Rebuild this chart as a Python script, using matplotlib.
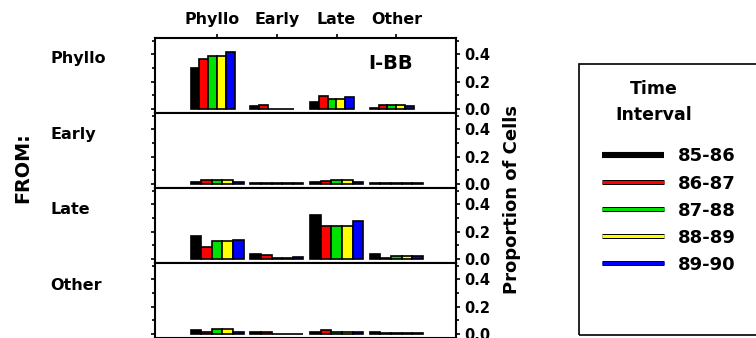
import numpy as np
import matplotlib
matplotlib.use("Agg")
import matplotlib.pyplot as plt
import matplotlib.patheffects as pe
import matplotlib.transforms as mtransforms
from matplotlib.lines import Line2D
from matplotlib.patches import Rectangle
from matplotlib.ticker import MultipleLocator

plt.rcParams['font.family'] = ['DejaVu Sans']
plt.rcParams['font.weight'] = 'bold'

# ---------------------------------------------------------------
# data
# ---------------------------------------------------------------
to_stages = ['Phyllo', 'Early', 'Late', 'Other']
from_stages = ['Phyllo', 'Early', 'Late', 'Other']
intervals = ['85-86', '86-87', '87-88', '88-89', '89-90']
colors = ['black', '#ff0000', '#00e000', '#ffff00', '#0000ff']

# proportion[from][to] -> one value per interval
from_phyllo = [[0.30, 0.365, 0.385, 0.385, 0.415],
               [0.02, 0.03, 0.003, 0.003, 0.003],
               [0.05, 0.098, 0.075, 0.075, 0.085],
               [0.01, 0.03, 0.03, 0.03, 0.02]]
from_early = [[0.012, 0.03, 0.03, 0.03, 0.012],
              [0.005, 0.01, 0.005, 0.005, 0.005],
              [0.012, 0.02, 0.03, 0.03, 0.012],
              [0.005, 0.006, 0.005, 0.005, 0.005]]
from_late = [[0.17, 0.09, 0.128, 0.128, 0.135],
             [0.035, 0.025, 0.01, 0.01, 0.015],
             [0.32, 0.24, 0.24, 0.24, 0.28],
             [0.035, 0.01, 0.022, 0.022, 0.022]]
from_other = [[0.03, 0.012, 0.035, 0.035, 0.012],
              [0.012, 0.012, 0.0, 0.0, 0.0],
              [0.012, 0.03, 0.012, 0.012, 0.012],
              [0.015, 0.01, 0.01, 0.01, 0.01]]
panels = [from_phyllo, from_early, from_late, from_other]

# ---------------------------------------------------------------
W, H = 756, 338
fig = plt.figure(figsize=(W / 100, H / 100), dpi=100)

ax_left = 155
ax_right = 456
panel_tops = [38, 113, 188, 263]
panel_h = 75
label_y = [59, 135, 210, 285]
bar_widths = [0.148, 0.178, 0.178, 0.178]

x = np.arange(len(to_stages))
axes = []
for p, vals in enumerate(panels):
    top = panel_tops[p]
    ax = fig.add_axes([ax_left / W, 1 - (top + panel_h) / H,
                       (ax_right - ax_left) / W, panel_h / H])
    vals = np.array(vals)
    bw = bar_widths[p]
    for k in range(len(intervals)):
        # groups start at the same left edge
        xpos = x - 2.5 * 0.178 + (k + 0.5) * bw
        ax.bar(xpos, vals[:, k], width=bw, color=colors[k],
               edgecolor='black', linewidth=1.2)
    ax.set_xlim(-1.04, 4.0)
    ax.set_ylim(-0.03, 0.52)
    ax.yaxis.set_minor_locator(MultipleLocator(0.1))
    ax.tick_params(axis='y', which='both', left=True, right=True,
                   labelleft=False, labelright=True, direction='out',
                   width=1.2, labelsize=10.5, pad=2.5)
    ax.tick_params(axis='y', which='major', length=3.2)
    ax.tick_params(axis='y', which='minor', length=2.5)
    ax.set_yticks([0.0, 0.2, 0.4])
    ax.set_yticklabels(['0.0', '0.2', '0.4'], fontweight='bold')
    ax.set_xticks(x)
    if p == 0:
        ax.tick_params(axis='x', top=True, bottom=False, labeltop=True,
                       labelbottom=False, direction='out', length=3,
                       width=1.2, labelsize=11.4, pad=5)
        ax.set_xticklabels(to_stages, fontweight='bold')
        lab = ax.get_xticklabels()[0]
        lab.set_transform(lab.get_transform() +
                          mtransforms.ScaledTranslation(-0.05, 0,
                                                        fig.dpi_scale_trans))
    elif p == len(panels) - 1:
        ax.tick_params(axis='x', top=False, bottom=True, labelbottom=False,
                       direction='out', length=3, width=1.2)
    else:
        ax.tick_params(axis='x', top=False, bottom=False,
                       labelbottom=False)
    for s in ax.spines.values():
        s.set_linewidth(1.5)
    fig.text(50 / W, 1 - label_y[p] / H, from_stages[p], ha='left',
             va='center', fontsize=11.5, fontweight='bold')
    axes.append(ax)

axes[0].text(2.905, 0.335, 'I-BB', ha='center', va='center',
             fontsize=14, fontweight='bold')

fig.text(22.5 / W, 1 - 168 / H, 'FROM:', rotation=90, ha='center',
         va='center', fontsize=13.8, fontweight='bold')
fig.text(512 / W, 1 - 199 / H, 'Proportion of Cells', rotation=90,
         ha='center', va='center', fontsize=13, fontweight='bold')

# legend
fig.patches.append(Rectangle((579 / W, 1 - 335 / H), 180 / W, 271 / H,
                             transform=fig.transFigure, fill=False,
                             edgecolor='black', linewidth=1.2))
fig.text(654 / W, 1 - 102 / H, 'Time\nInterval', ha='center',
         va='center', multialignment='center', linespacing=1.5,
         fontsize=12.5, fontweight='bold')
handles = []
for k, c in enumerate(colors):
    lw = 3.0 if k == 0 else 2.2
    handles.append(Line2D([0], [0], color=c, lw=lw, solid_capstyle='butt',
                          path_effects=[pe.Stroke(linewidth=lw + 1.4,
                                                  foreground='black',
                                                  capstyle='butt'),
                                        pe.Normal()]))
leg = fig.legend(handles, intervals, loc='upper left',
                 bbox_to_anchor=(602 / W, 1 - 147.5 / H), frameon=False,
                 borderpad=0, borderaxespad=0, handlelength=3.44,
                 labelspacing=0.5, handletextpad=0.78,
                 prop={'size': 13, 'weight': 'bold'})

fig.savefig('out.png', dpi=100)
